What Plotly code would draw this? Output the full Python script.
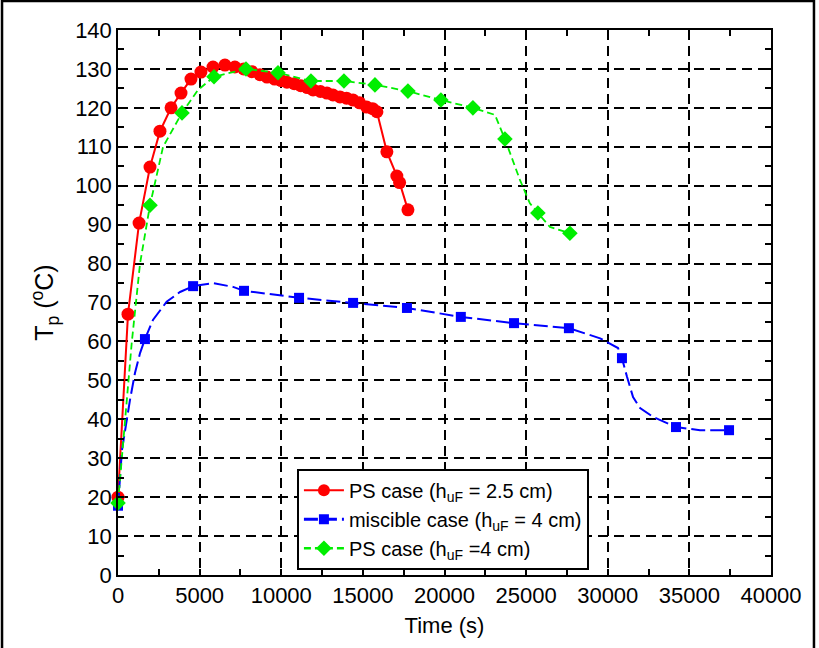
import plotly.graph_objects as go

# ---- data ----
red_t = [0, 612, 1290, 1960, 2570, 3250, 3860, 4470, 5080, 5820, 6550, 7160, 7700, 8200,
         8700, 9130, 9600, 10000, 10350, 10800, 11200, 11600, 11950, 12400, 12800, 13170,
         13600, 14000, 14400, 14800, 15230, 15600, 15860, 16470, 17080, 17250, 17760]
red_T = [20, 67, 90.4, 104.8, 114, 120, 123.8, 127.4, 129.2, 130.5, 131, 130.5, 130, 129.3,
         128.5, 127.9, 127.4, 127, 126.6, 126.2, 125.7, 125.2, 124.6, 124.2, 123.8, 123.3,
         122.8, 122.5, 122, 121.3, 120.2, 119.8, 119, 108.7, 102.5, 100.8, 93.8]

blue_t = [0, 1650, 4600, 7720, 11090, 14400, 17700, 21000, 24260, 27620, 30870, 34180, 37430]
blue_T = [17.8, 60.6, 74.2, 73, 71.2, 69.9, 68.6, 66.3, 64.7, 63.4, 55.7, 38.0, 37.2]
blue_curve_t = [0, 240, 735, 1040, 1350, 1650, 2140, 2980, 3800, 4600, 5820, 7050, 7720,
                11090, 14400, 17700, 21000, 24260, 27620, 29530, 30630, 30870, 31180, 31550,
                31980, 32780, 34180, 35650, 37430]
blue_curve_T = [17.5, 32, 45, 51.9, 57, 60.6, 65.5, 70.2, 72.7, 74.2, 75, 74, 73,
                71.2, 69.9, 68.6, 66.3, 64.7, 63.4, 60.8, 58.3, 55.7, 50.9, 45.7,
                42.9, 40.6, 38.0, 37.2, 37.2]

green_t = [0, 1960, 3920, 5880, 7840, 9800, 11820, 13840, 15740, 17760, 19780, 21740,
           23700, 25720, 27680]
green_T = [18.5, 95, 118.7, 128, 130, 129, 126.9, 126.9, 125.9, 124.3, 122, 120,
           112, 93, 87.8]
green_curve_t = [0, 430, 840, 1350, 1960, 2760, 3920, 4900, 5880, 7840, 9800, 11820, 13840,
                 15740, 17760, 19780, 21740, 23090, 23700, 24620, 25230, 25720, 26460, 27680]
green_curve_T = [18.5, 39.8, 59.6, 80, 95, 110, 118.7, 124.6, 128, 130, 129, 126.9, 126.9,
                 125.9, 124.3, 122, 120, 118.2, 112, 101.5, 95.5, 93, 89.4, 87.8]

names = ["PS case (h<sub>uF</sub> = 2.5 cm)",
         "miscible case (h<sub>uF</sub> = 4 cm)",
         "PS case (h<sub>uF</sub> =4 cm)"]

x_ticks = list(range(0, 40001, 5000))
y_ticks = list(range(0, 141, 10))

FONT = "Liberation Sans, Arial, sans-serif"
RED, BLUE, GREEN = "#ff0000", "#0000ff", "#00ee00"

fig = go.Figure()

# red
fig.add_trace(go.Scatter(x=red_t, y=red_T, mode="lines+markers", showlegend=False,
                         line=dict(color=RED, width=2),
                         marker=dict(symbol="circle", size=13, color=RED),
                         cliponaxis=False))
# blue
fig.add_trace(go.Scatter(x=blue_curve_t, y=blue_curve_T, mode="lines", showlegend=False,
                         line=dict(color=BLUE, width=2, dash="14px,5px")))
fig.add_trace(go.Scatter(x=blue_t, y=blue_T, mode="markers", showlegend=False,
                         marker=dict(symbol="square", size=10, color=BLUE),
                         cliponaxis=False))
# green
fig.add_trace(go.Scatter(x=green_curve_t, y=green_curve_T, mode="lines", showlegend=False,
                         line=dict(color=GREEN, width=1.8, dash="7px,4px")))
fig.add_trace(go.Scatter(x=green_t, y=green_T, mode="markers", showlegend=False,
                         marker=dict(symbol="diamond", size=12, color=GREEN),
                         cliponaxis=False))

# legend entries
fig.add_trace(go.Scatter(x=[None], y=[None], mode="lines+markers", name=names[0],
                         line=dict(color=RED, width=2),
                         marker=dict(symbol="circle", size=12, color=RED)))
fig.add_trace(go.Scatter(x=[None], y=[None], mode="lines+markers", name=names[1],
                         line=dict(color=BLUE, width=3, dash="14px,5px"),
                         marker=dict(symbol="square", size=10, color=BLUE)))
fig.add_trace(go.Scatter(x=[None], y=[None], mode="lines+markers", name=names[2],
                         line=dict(color=GREEN, width=2.5, dash="7px,4px"),
                         marker=dict(symbol="diamond", size=12, color=GREEN)))

axis_common = dict(showline=True, linecolor="black", linewidth=1.5, mirror="ticks",
                   ticks="inside", ticklen=6, tickwidth=1.5, tickcolor="black",
                   showgrid=True, gridcolor="black", gridwidth=2, griddash="10px,6px",
                   zeroline=False, tickfont=dict(family=FONT, size=22, color="black"))

fig.update_xaxes(range=[0, 40000], tickvals=x_ticks, ticktext=[str(v) for v in x_ticks],
                 minor=dict(dtick=2500, ticks="inside", ticklen=6, tickcolor="black",
                            showgrid=False),
                 title=dict(text="Time (s)", font=dict(family=FONT, size=22, color="black"),
                            standoff=10),
                 **axis_common)
fig.update_yaxes(range=[0, 140], tickvals=y_ticks, ticktext=[str(v) for v in y_ticks],
                 minor=dict(dtick=5, ticks="inside", ticklen=6, tickcolor="black",
                            showgrid=False),
                 title=dict(text="T<sub>p</sub> (<sup>o</sup>C)",
                            font=dict(family=FONT, size=25, color="black"), standoff=14),
                 **axis_common)

fig.update_layout(
    width=819, height=648,
    margin=dict(l=118, r=48, t=30, b=73),
    plot_bgcolor="white", paper_bgcolor="white",
    font=dict(family=FONT, color="black"),
    legend=dict(x=0.274, y=0.195, xanchor="left", yanchor="top",
                bgcolor="white", bordercolor="black", borderwidth=2,
                font=dict(family=FONT, size=20, color="black"),
                tracegroupgap=0, itemwidth=40),
    shapes=[dict(type="rect", xref="paper", yref="paper",
                 x0=-0.1776, x1=1.0658, y0=-0.2, y1=1.0532,
                 line=dict(color="black", width=2.5), layer="below")],
)

fig.write_html("out.html")
